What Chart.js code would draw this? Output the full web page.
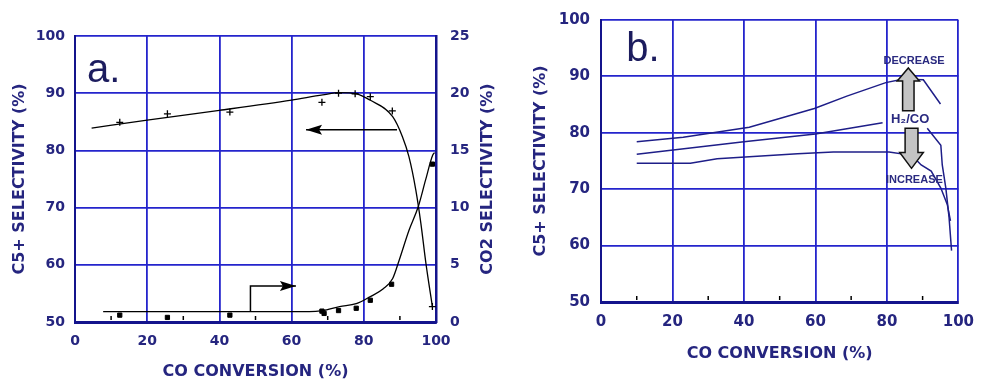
<!DOCTYPE html>
<html>
<head>
<meta charset="utf-8">
<script src="https://cdn.jsdelivr.net/npm/chart.js@4.4.0/dist/chart.umd.min.js"></script>
<style>
  html, body { margin: 0; padding: 0; background: #fff; }
  #chartA { position: absolute; left: 0; top: 0; }
  #chartB { position: absolute; left: 510px; top: 0; }
</style>
</head>
<body>
<canvas id="chartA" width="510" height="381"></canvas>
<canvas id="chartB" width="475" height="381"></canvas>
<script>
// ---- panel a: C5+ and CO2 selectivity vs CO conversion ----
const c5CurveX = [4.6, 20, 40, 60, 68.6, 73.3, 78.0, 81.7, 88.0, 90.7, 92.5, 94.4, 95.8, 97.2, 99.0];
const c5CurveY = [83.9, 85.3, 87.0, 88.8, 89.7, 90.1, 89.9, 88.8, 85.9, 82.4, 78.9, 73.1, 67.3, 60.3, 52.7];
const c5PointX = [12.4, 25.6, 42.9, 68.4, 73.0, 77.6, 81.8, 87.9, 99.0];
const c5PointY = [84.9, 86.4, 86.7, 88.4, 90.0, 89.9, 89.4, 86.9, 52.7];

const co2CurveX = [7.8, 64.9, 68.6, 73.3, 77.9, 81.7, 85.4, 88.0, 89.8, 92.5, 95.1, 97.1, 99.1, 99.6];
const co2CurveY = [0.9, 0.9, 1.0, 1.35, 1.6, 2.2, 2.9, 3.8, 5.4, 8.0, 10.1, 12.4, 14.6, 14.8];
const co2PointX = [12.4, 25.6, 42.9, 68.4, 69.0, 73.0, 77.9, 81.8, 87.7, 99.0];
const co2PointY = [0.6, 0.4, 0.6, 0.95, 0.75, 1.0, 1.2, 1.9, 3.3, 13.8];

// arrows pointing to the axis each curve belongs to (data units)
const arrowLeftX = [89.2, 64.0];
const arrowLeftY = [83.6, 83.6];
const arrowRightX = [48.6, 48.6, 61.2];
const arrowRightY = [0.9, 3.15, 3.15];

// ---- panel b: C5+ selectivity for three H2/CO ratios ----
const topX = [10, 23, 41.5, 59.7, 68.8, 79.7, 84.3, 90.2, 95.0];
const topY = [78.4, 79.2, 81.0, 84.3, 86.5, 88.9, 89.5, 89.4, 85.1];
const midX = [10, 40, 60, 78.8, 85, 91.3, 95.1, 95.5, 96.5, 97.4, 98.1];
const midY = [76.2, 78.4, 79.8, 81.8, null, 80.8, 77.8, 74.3, 70.2, 65.0, 59.1];
const lowX = [10, 25, 32.5, 55, 65, 80.6, 87, 89.6, 92.4, 95.1, 96.9, 97.8];
const lowY = [74.6, 74.6, 75.4, 76.3, 76.6, 76.6, 76.0, 74.3, 73.2, 70.2, 67.3, 64.4];

// block arrows: centre x, tip, neck, tail (y units), half widths (x units)
const upArrow = { x: 86.0, tip: 91.5, neck: 89.2, tail: 83.9, head: 3.1, shaft: 1.6 };
const downArrow = { x: 86.9, tip: 73.7, neck: 76.5, tail: 80.8, head: 3.3, shaft: 1.8 };
const noteText = ['DECREASE', 'H\u2082/CO', 'INCREASE'];
const noteX = [87.6, 86.5, 87.7];
const noteY = [92.8, 82.4, 71.6];

const xTicks = [0, 20, 40, 60, 80, 100];
const minorX = [10, 30, 50, 70, 90];

const TEXT = '#25257f';
const GRID = '#2424cc';
const AXIS = '#14148c';
const FONT = 'DejaVu Sans';

const pts = (xs, ys) => xs.map((x, i) => ({ x: x, y: ys[i] }));

function minorTicks(chart) {
  const ctx = chart.ctx, xs = chart.scales.x, b = chart.chartArea.bottom;
  ctx.save();
  ctx.strokeStyle = '#000';
  ctx.lineWidth = 1.5;
  minorX.forEach(v => {
    const px = xs.getPixelForValue(v);
    ctx.beginPath();
    ctx.moveTo(px, b - 2);
    ctx.lineTo(px, b - 6);
    ctx.stroke();
  });
  ctx.restore();
}

function lineArrow(ctx, P) {
  ctx.beginPath();
  ctx.moveTo(P[0][0], P[0][1]);
  for (let i = 1; i < P.length; i++) ctx.lineTo(P[i][0], P[i][1]);
  ctx.stroke();
  const [x1, y1] = P[P.length - 2], [x2, y2] = P[P.length - 1];
  ctx.save();
  ctx.translate(x2, y2);
  ctx.rotate(Math.atan2(y2 - y1, x2 - x1));
  ctx.beginPath();
  ctx.moveTo(0, 0);
  ctx.lineTo(-16, -5);
  ctx.lineTo(-13, 0);
  ctx.lineTo(-16, 5);
  ctx.closePath();
  ctx.fill();
  ctx.restore();
}

const annotA = {
  id: 'annotA',
  afterDatasetsDraw(chart) {
    const ctx = chart.ctx, x = chart.scales.x, y = chart.scales.y, y2 = chart.scales.y2;
    minorTicks(chart);
    ctx.save();
    ctx.strokeStyle = '#000';
    ctx.fillStyle = '#000';
    ctx.lineWidth = 1.5;
    lineArrow(ctx, arrowLeftX.map((v, i) => [x.getPixelForValue(v), y.getPixelForValue(arrowLeftY[i])]));
    lineArrow(ctx, arrowRightX.map((v, i) => [x.getPixelForValue(v), y2.getPixelForValue(arrowRightY[i])]));
    // panel letter
    ctx.fillStyle = '#1c1c5e';
    ctx.font = '40px "Liberation Sans"';
    ctx.textBaseline = 'alphabetic';
    ctx.fillText('a.', x.getPixelForValue(3.3), y.getPixelForValue(92.0));
    // right axis title, reading bottom to top
    ctx.translate(y2.right - 22, (chart.chartArea.top + chart.chartArea.bottom) / 2);
    ctx.rotate(-Math.PI / 2);
    ctx.fillStyle = TEXT;
    ctx.font = 'bold 16px "' + FONT + '"';
    ctx.textAlign = 'center';
    ctx.textBaseline = 'middle';
    ctx.fillText('CO2 SELECTIVITY (%)', 0, 0);
    ctx.restore();
  }
};

function blockArrow(ctx, x, y, a) {
  const X = v => x.getPixelForValue(v), Y = v => y.getPixelForValue(v);
  ctx.beginPath();
  ctx.moveTo(X(a.x - a.shaft), Y(a.tail));
  ctx.lineTo(X(a.x - a.shaft), Y(a.neck));
  ctx.lineTo(X(a.x - a.head), Y(a.neck));
  ctx.lineTo(X(a.x), Y(a.tip));
  ctx.lineTo(X(a.x + a.head), Y(a.neck));
  ctx.lineTo(X(a.x + a.shaft), Y(a.neck));
  ctx.lineTo(X(a.x + a.shaft), Y(a.tail));
  ctx.closePath();
  ctx.fill();
  ctx.stroke();
}

const annotB = {
  id: 'annotB',
  afterDatasetsDraw(chart) {
    const ctx = chart.ctx, x = chart.scales.x, y = chart.scales.y;
    minorTicks(chart);
    ctx.save();
    ctx.fillStyle = '#c4c4c4';
    ctx.strokeStyle = '#111';
    ctx.lineWidth = 1.5;
    blockArrow(ctx, x, y, upArrow);
    blockArrow(ctx, x, y, downArrow);
    ctx.fillStyle = '#2a2a80';
    ctx.textAlign = 'center';
    ctx.textBaseline = 'middle';
    noteText.forEach((t, i) => {
      ctx.font = (i === 1 ? 'bold 13px' : 'bold 11px') + ' "Liberation Sans"';
      ctx.fillText(t, x.getPixelForValue(noteX[i]), y.getPixelForValue(noteY[i]));
    });
    ctx.fillStyle = '#1c1c5e';
    ctx.font = '40px "Liberation Sans"';
    ctx.textAlign = 'left';
    ctx.textBaseline = 'alphabetic';
    ctx.fillText('b.', x.getPixelForValue(7.1), y.getPixelForValue(92.8));
    ctx.restore();
  }
};

function xScale(tickSize, tickPad, titleBottom, height) {
  return {
    type: 'linear', min: 0, max: 100,
    afterBuildTicks: s => { s.ticks = xTicks.map(v => ({ value: v })); },
    ticks: { color: TEXT, padding: tickPad, font: { family: FONT, weight: 'bold', size: tickSize } },
    grid: { color: GRID, lineWidth: 1.8, drawTicks: false },
    border: { color: AXIS, width: 3 },
    title: { display: true, text: 'CO CONVERSION (%)', color: TEXT,
      font: { family: FONT, weight: 'bold', size: 16 }, padding: { top: 0, bottom: titleBottom } },
    afterFit: s => { s.height = height; }
  };
}

function yScale(tickSize, tickPad, titleTop, width) {
  return {
    position: 'left', min: 50, max: 100,
    ticks: { stepSize: 10, color: TEXT, padding: tickPad, font: { family: FONT, weight: 'bold', size: tickSize } },
    grid: { color: GRID, lineWidth: 1.8, drawTicks: false },
    border: { color: AXIS, width: 2 },
    title: { display: true, text: 'C5+ SELECTIVITY (%)', color: TEXT,
      font: { family: FONT, weight: 'bold', size: 16 }, padding: { top: titleTop, bottom: 0 } },
    afterFit: s => { s.width = width; }
  };
}

new Chart(document.getElementById('chartA'), {
  type: 'scatter',
  data: {
    datasets: [
      { data: pts(c5CurveX, c5CurveY), showLine: true, borderColor: '#000', borderWidth: 1.3,
        pointRadius: 0, cubicInterpolationMode: 'monotone', yAxisID: 'y' },
      { data: pts(co2CurveX, co2CurveY), showLine: true, borderColor: '#000', borderWidth: 1.3,
        pointRadius: 0, cubicInterpolationMode: 'monotone', yAxisID: 'y2' },
      { data: pts(c5PointX, c5PointY), pointStyle: 'cross', pointRadius: 3.5,
        borderColor: '#000', borderWidth: 1.3, yAxisID: 'y' },
      { data: pts(co2PointX, co2PointY), pointStyle: 'rect', pointRadius: 3,
        backgroundColor: '#000', borderColor: '#000', yAxisID: 'y2' }
    ]
  },
  options: {
    responsive: false,
    animation: false,
    layout: { padding: { top: 36, left: 0, right: 0, bottom: 0 } },
    plugins: { legend: { display: false }, tooltip: { enabled: false } },
    scales: {
      x: xScale(14, 11, 0, 59),
      y: yScale(14, 10, 10, 75),
      y2: {
        position: 'right', min: 0, max: 25,
        ticks: { stepSize: 5, color: TEXT, padding: 14, font: { family: FONT, weight: 'bold', size: 14 } },
        grid: { drawOnChartArea: false, drawTicks: false },
        border: { color: AXIS, width: 2.5 },
        afterFit: s => { s.width = 74; }
      }
    }
  },
  plugins: [annotA]
});

const lineB = (xs, ys) => ({ data: pts(xs, ys), showLine: true, borderColor: '#1e1e88',
  borderWidth: 1.5, pointRadius: 0, spanGaps: false });

new Chart(document.getElementById('chartB'), {
  type: 'scatter',
  data: { datasets: [lineB(topX, topY), lineB(midX, midY), lineB(lowX, lowY)] },
  options: {
    responsive: false,
    animation: false,
    layout: { padding: { top: 17, left: 0, right: 17, bottom: 0 } },
    plugins: { legend: { display: false }, tooltip: { enabled: false } },
    scales: {
      x: xScale(15, 11, 18, 79),
      y: yScale(15, 11, 21, 91)
    }
  },
  plugins: [annotB]
});
</script>
</body>
</html>
